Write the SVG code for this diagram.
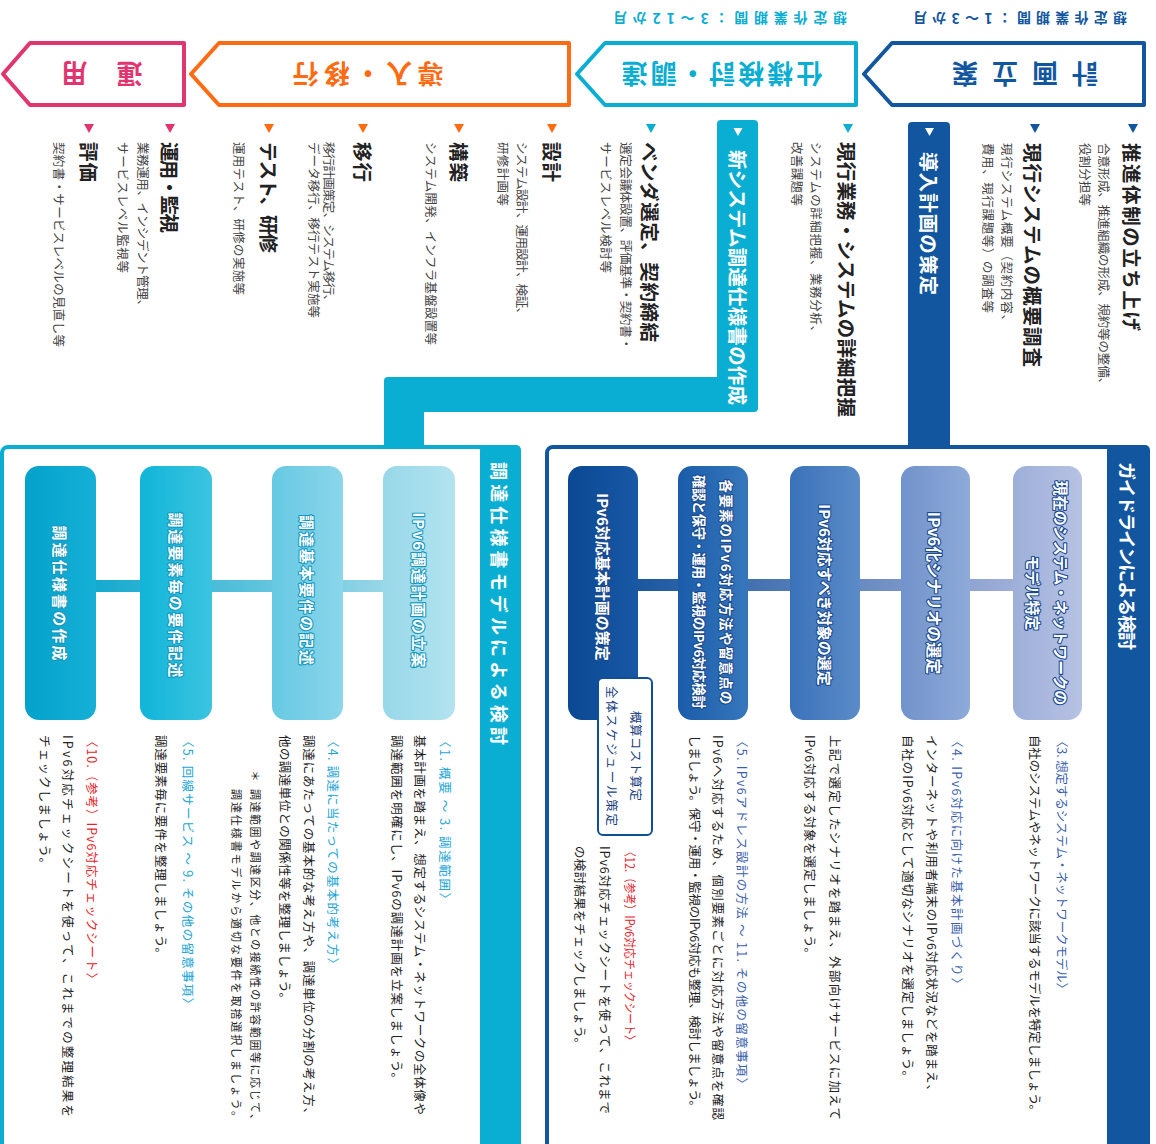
<svg xmlns="http://www.w3.org/2000/svg" width="1156" height="1144" viewBox="0 0 1156 1144">
<defs>
<style>
text{font-family:'Noto Sans CJK JP','Noto Sans',sans-serif;dominant-baseline:central}
.hd{font-size:26px;font-weight:700}
.per{font-size:14px;font-weight:700}
.ti{font-size:19.5px;font-weight:700;fill:#222}
.sb{font-size:12.5px;fill:#444}
.bar{font-size:19.5px;font-weight:700;fill:#fff}
.ds{font-size:12.5px;fill:#222}
.gh{font-size:12.5px;fill:#3a5fae}
.ph{font-size:12.5px;fill:#22a5d6}
.rd{font-size:12.5px;fill:#e8232b}
.gn{font-size:15px;font-weight:700;fill:#fff;stroke:#1b4a90;stroke-width:2.2px;paint-order:stroke;stroke-linejoin:round}
.pn{font-size:15px;font-weight:700;fill:#fff;stroke:#1598c0;stroke-width:2.2px;paint-order:stroke;stroke-linejoin:round}
.sbx{font-size:12.5px;fill:#1a3f80}
.bt{font-size:18px;font-weight:700;fill:#fff}
</style>
<linearGradient id="g1" x1="0" x2="1" y1="0" y2="0"><stop offset="0" stop-color="#9dafd9"/><stop offset="1" stop-color="#b7c2e3"/></linearGradient>
<linearGradient id="g2" x1="0" x2="1" y1="0" y2="0"><stop offset="0" stop-color="#7192cb"/><stop offset="1" stop-color="#8eaad8"/></linearGradient>
<linearGradient id="g3" x1="0" x2="1" y1="0" y2="0"><stop offset="0" stop-color="#3a72ba"/><stop offset="1" stop-color="#5b8bc8"/></linearGradient>
<linearGradient id="g4" x1="0" x2="1" y1="0" y2="0"><stop offset="0" stop-color="#1a5ca9"/><stop offset="1" stop-color="#3677bc"/></linearGradient>
<linearGradient id="g5" x1="0" x2="1" y1="0" y2="0"><stop offset="0" stop-color="#0a4893"/><stop offset="1" stop-color="#1858a4"/></linearGradient>
<linearGradient id="p1" x1="0" x2="1" y1="0" y2="0"><stop offset="0" stop-color="#98d8e9"/><stop offset="1" stop-color="#b3e3ef"/></linearGradient>
<linearGradient id="p2" x1="0" x2="1" y1="0" y2="0"><stop offset="0" stop-color="#66c9e2"/><stop offset="1" stop-color="#8bd6ea"/></linearGradient>
<linearGradient id="p3" x1="0" x2="1" y1="0" y2="0"><stop offset="0" stop-color="#10b5d8"/><stop offset="1" stop-color="#3cc4e0"/></linearGradient>
<linearGradient id="p4" x1="0" x2="1" y1="0" y2="0"><stop offset="0" stop-color="#03a2cb"/><stop offset="1" stop-color="#16b0d6"/></linearGradient>
<linearGradient id="gc" x1="0" x2="1" y1="0" y2="0"><stop offset="0" stop-color="#0f4f9a"/><stop offset="1" stop-color="#aab6dd"/></linearGradient>
<linearGradient id="pc" x1="0" x2="1" y1="0" y2="0"><stop offset="0" stop-color="#05a4cc"/><stop offset="1" stop-color="#a6dcea"/></linearGradient>
</defs>
<rect width="1156" height="1144" fill="#fff"/>

<!-- Phase header arrows -->
<g id="phase-plan">
<path d="M892 43 H1144 V105 H892 L864 74 Z" fill="#fff" stroke="#11569f" stroke-width="4" stroke-linejoin="round"/>
<text class="hd" fill="#11569f" text-anchor="middle" transform="translate(1025 75) rotate(180)" textLength="146" lengthAdjust="spacing">計画立案</text>
<text class="per" fill="#11569f" text-anchor="middle" transform="translate(1020 19) rotate(180)" textLength="214" lengthAdjust="spacing">想定作業期間：1～3か月</text>
</g>
<g id="phase-spec">
<path d="M605 43 H856 V105 H605 L577 74 Z" fill="#fff" stroke="#0aaed2" stroke-width="4" stroke-linejoin="round"/>
<text class="hd" fill="#0aaed2" text-anchor="middle" transform="translate(722 75) rotate(180)" textLength="201" lengthAdjust="spacing">仕様検討・調達</text>
<text class="per" fill="#0aaed2" text-anchor="middle" transform="translate(730 19) rotate(180)" textLength="234" lengthAdjust="spacing">想定作業期間：3～12か月</text>
</g>
<g id="phase-deploy">
<path d="M219 43 H569 V105 H219 L191 74 Z" fill="#fff" stroke="#ff6b12" stroke-width="4" stroke-linejoin="round"/>
<text class="hd" fill="#ff6b12" text-anchor="middle" transform="translate(368 75) rotate(180)" textLength="151" lengthAdjust="spacing">導入・移行</text>
</g>
<g id="phase-ops">
<path d="M30 43 H184 V105 H30 L3 74 Z" fill="#fff" stroke="#e0356f" stroke-width="4" stroke-linejoin="round"/>
<text class="hd" fill="#e0356f" text-anchor="middle" transform="translate(102 75) rotate(180)" textLength="81" lengthAdjust="spacing">運用</text>
</g>

<!-- Plan column items -->
<g id="plan-items">
<polygon points="1128,124 1138,124 1133,133" fill="#11569f"/>
<text class="ti" transform="translate(1132 143) rotate(90)" textLength="188" lengthAdjust="spacing">推進体制の立ち上げ</text>
<text class="sb" transform="translate(1104 143) rotate(90)" textLength="247" lengthAdjust="spacing">合意形成、推進組織の形成、規約等の整備、</text>
<text class="sb" transform="translate(1085 143) rotate(90)" textLength="63" lengthAdjust="spacing">役割分担等</text>
<polygon points="1030,124 1040,124 1035,133" fill="#11569f"/>
<text class="ti" transform="translate(1033 143) rotate(90)" textLength="224" lengthAdjust="spacing">現行システムの概要調査</text>
<text class="sb" transform="translate(1007 143) rotate(90)" textLength="184" lengthAdjust="spacing">現行システム概要（契約内容、</text>
<text class="sb" transform="translate(988 143) rotate(90)" textLength="170" lengthAdjust="spacing">費用、現行課題等）の調査等</text>
</g>
<g id="plan-bar">
<rect x="908" y="122" width="42" height="327" rx="4" fill="#11569f"/>
<polygon points="925,128 934,128 929.5,136" fill="#fff"/>
<text class="bar" transform="translate(929 152) rotate(90)" textLength="143" lengthAdjust="spacing">導入計画の策定</text>
</g>

<!-- Spec column items -->
<g id="spec-items">
<polygon points="843,124 853,124 848,133" fill="#0aaed2"/>
<text class="ti" transform="translate(847 142) rotate(90)" textLength="275" lengthAdjust="spacing">現行業務・システムの詳細把握</text>
<text class="sb" transform="translate(816 142) rotate(90)" textLength="196" lengthAdjust="spacing">システムの詳細把握、業務分析、</text>
<text class="sb" transform="translate(797 142) rotate(90)" textLength="64" lengthAdjust="spacing">改善課題等</text>
<polygon points="646,124 656,124 651,133" fill="#0aaed2"/>
<text class="ti" transform="translate(650 142) rotate(90)" textLength="200" lengthAdjust="spacing">ベンダ選定、契約締結</text>
<text class="sb" transform="translate(626 142) rotate(90)" textLength="208" lengthAdjust="spacing">選定会議体設置、評価基準・契約書・</text>
<text class="sb" transform="translate(606 142) rotate(90)" textLength="131" lengthAdjust="spacing">サービスレベル検討等</text>
</g>
<g id="spec-bar">
<path d="M721 120 H754 Q758 120 758 124 V408 Q758 412 754 412 H424 V449 H384 V381 Q384 377 388 377 H717 V124 Q717 120 721 120 Z" fill="#0aaed2"/>
<polygon points="733.5,128 742.5,128 738,136" fill="#fff"/>
<text class="bar" transform="translate(738 150) rotate(90)" textLength="255" lengthAdjust="spacing">新システム調達仕様書の作成</text>
</g>

<!-- Deploy / Ops column items -->
<g id="deploy-items">
<polygon points="547,124 557,124 552,133" fill="#ff6b12"/>
<text class="ti" transform="translate(552 142) rotate(90)" textLength="40" lengthAdjust="spacing">設計</text>
<text class="sb" transform="translate(522 142) rotate(90)" textLength="178" lengthAdjust="spacing">システム設計、運用設計、検証、</text>
<text class="sb" transform="translate(503 142) rotate(90)" textLength="64" lengthAdjust="spacing">研修計画等</text>
<polygon points="454,124 464,124 459,133" fill="#ff6b12"/>
<text class="ti" transform="translate(459 142) rotate(90)" textLength="40" lengthAdjust="spacing">構築</text>
<text class="sb" transform="translate(431 142) rotate(90)" textLength="203" lengthAdjust="spacing">システム開発、インフラ基盤設置等</text>
<polygon points="358,124 368,124 363,133" fill="#ff6b12"/>
<text class="ti" transform="translate(363 142) rotate(90)" textLength="40" lengthAdjust="spacing">移行</text>
<text class="sb" transform="translate(329 142) rotate(90)" textLength="165" lengthAdjust="spacing">移行計画策定、システム移行、</text>
<text class="sb" transform="translate(314 142) rotate(90)" textLength="176" lengthAdjust="spacing">データ移行、移行テスト実施等</text>
<polygon points="264,124 274,124 269,133" fill="#ff6b12"/>
<text class="ti" transform="translate(269 142) rotate(90)" textLength="111" lengthAdjust="spacing">テスト、研修</text>
<text class="sb" transform="translate(239 142) rotate(90)" textLength="153" lengthAdjust="spacing">運用テスト、研修の実施等</text>
</g>
<g id="ops-items">
<polygon points="165,124 175,124 170,133" fill="#e0356f"/>
<text class="ti" transform="translate(170 142) rotate(90)" textLength="91" lengthAdjust="spacing">運用・監視</text>
<text class="sb" transform="translate(143 142) rotate(90)" textLength="170" lengthAdjust="spacing">業務運用、インシデント管理、</text>
<text class="sb" transform="translate(123 142) rotate(90)" textLength="131" lengthAdjust="spacing">サービスレベル監視等</text>
<polygon points="84,124 94,124 89,133" fill="#e0356f"/>
<text class="ti" transform="translate(89 142) rotate(90)" textLength="40" lengthAdjust="spacing">評価</text>
<text class="sb" transform="translate(59 142) rotate(90)" textLength="205" lengthAdjust="spacing">契約書・サービスレベルの見直し等</text>
</g>

<!-- Guideline box -->
<g id="guideline-box">
<rect x="547" y="447" width="601" height="720" rx="6" fill="#fff" stroke="#11569f" stroke-width="4"/>
<rect x="1107" y="445" width="43" height="710" rx="5" fill="#11569f"/>
<text class="bt" transform="translate(1128 462) rotate(90)" textLength="188" lengthAdjust="spacing">ガイドラインによる検討</text>
</g>

<!-- Procurement box -->
<g id="procurement-box">
<rect x="2" y="447" width="517" height="720" rx="6" fill="#fff" stroke="#0aaed2" stroke-width="4"/>
<rect x="480" y="445" width="41" height="710" rx="5" fill="#0aaed2"/>
<text class="bt" transform="translate(500 462) rotate(90)" textLength="283" lengthAdjust="spacing">調達仕様書モデルによる検討</text>
</g>

<!-- Connectors -->
<g id="connectors">
<rect x="603" y="579" width="444" height="12" fill="url(#gc)"/>
<rect x="60" y="580" width="359" height="12" fill="url(#pc)"/>
</g>

<!-- Guideline nodes -->
<g id="g-node1">
<rect x="1013" y="466" width="69" height="254" rx="14" fill="url(#g1)"/>
<text class="gn" text-anchor="middle" transform="translate(1061 593) rotate(90)">現在のシステム・ネットワークの</text>
<text class="gn" text-anchor="middle" transform="translate(1033 593) rotate(90)">モデル特定</text>
<text class="gh" transform="translate(1062 735) rotate(90)" textLength="260" lengthAdjust="spacing">〈3. 想定するシステム・ネットワークモデル〉</text>
<text class="ds" transform="translate(1035 735) rotate(90)" textLength="382" lengthAdjust="spacing">自社のシステムやネットワークに該当するモデルを特定しましょう。</text>
</g>
<g id="g-node2">
<rect x="901" y="466" width="69" height="254" rx="14" fill="url(#g2)"/>
<text class="gn" style="font-size:16px" text-anchor="middle" transform="translate(935 593) rotate(90)">IPv6化シナリオの選定</text>
<text class="gh" transform="translate(957 735) rotate(90)" textLength="255" lengthAdjust="spacing">〈4. IPv6対応に向けた基本計画づくり〉</text>
<text class="ds" transform="translate(932 735) rotate(90)" textLength="362" lengthAdjust="spacing">インターネットや利用者端末のIPv6対応状況などを踏まえ、</text>
<text class="ds" transform="translate(908 735) rotate(90)" textLength="348" lengthAdjust="spacing">自社のIPv6対応として適切なシナリオを選定しましょう。</text>
</g>
<g id="g-node3">
<rect x="790" y="466" width="70" height="254" rx="14" fill="url(#g3)"/>
<text class="gn" text-anchor="middle" transform="translate(825 595) rotate(90)">IPv6対応すべき対象の選定</text>
<text class="ds" transform="translate(835 735) rotate(90)" textLength="385" lengthAdjust="spacing">上記で選定したシナリオを踏まえ、外部向けサービスに加えて</text>
<text class="ds" transform="translate(810 735) rotate(90)" textLength="225" lengthAdjust="spacing">IPv6対応する対象を選定しましょう。</text>
</g>
<g id="g-node4">
<rect x="678" y="466" width="70" height="254" rx="14" fill="url(#g4)"/>
<text class="gn" text-anchor="middle" style="font-size:13.5px" transform="translate(727 592) rotate(90)" textLength="225" lengthAdjust="spacing">各要素のIPv6対応方法や留意点の</text>
<text class="gn" text-anchor="middle" style="font-size:13.5px" transform="translate(700 592) rotate(90)" textLength="234" lengthAdjust="spacing">確認と保守・運用・監視のIPv6対応検討</text>
<text class="gh" transform="translate(742 735) rotate(90)" textLength="355" lengthAdjust="spacing">〈5. IPv6アドレス設計の方法 ～ 11. その他の留意事項〉</text>
<text class="ds" transform="translate(718 735) rotate(90)" textLength="385" lengthAdjust="spacing">IPv6へ対応するため、個別要素ごとに対応方法や留意点を確認</text>
<text class="ds" transform="translate(695 735) rotate(90)" textLength="378" lengthAdjust="spacing">しましょう。保守・運用・監視のIPv6対応も整理、検討しましょう。</text>
</g>
<g id="g-node5">
<rect x="568" y="466" width="70" height="254" rx="14" fill="url(#g5)"/>
<text class="gn" text-anchor="middle" transform="translate(603 577) rotate(90)">IPv6対応基本計画の策定</text>
<rect x="598" y="678" width="54" height="157" rx="5" fill="#fff" stroke="#0e4f98" stroke-width="2"/>
<text class="sbx" text-anchor="middle" transform="translate(636 756) rotate(90)" textLength="90" lengthAdjust="spacing">概算コスト算定</text>
<text class="sbx" text-anchor="middle" transform="translate(612 756) rotate(90)" textLength="140" lengthAdjust="spacing">全体スケジュール策定</text>
<text class="rd" transform="translate(630 846) rotate(90)" textLength="200" lengthAdjust="spacingAndGlyphs">〈12.（参考）IPv6対応チェックシート〉</text>
<text class="ds" transform="translate(605 846) rotate(90)" textLength="268" lengthAdjust="spacing">IPv6対応チェックシートを使って、これまで</text>
<text class="ds" transform="translate(580 846) rotate(90)" textLength="204" lengthAdjust="spacing">の検討結果をチェックしましょう。</text>
</g>

<!-- Procurement nodes -->
<g id="p-node1">
<rect x="383" y="466" width="72" height="254" rx="14" fill="url(#p1)"/>
<text class="pn" text-anchor="middle" transform="translate(419 590) rotate(90)" textLength="155" lengthAdjust="spacing">IPv6調達計画の立案</text>
<text class="ph" transform="translate(445 735) rotate(90)" textLength="170" lengthAdjust="spacing">〈1. 概要 ～ 3. 調達範囲〉</text>
<text class="ds" transform="translate(420 735) rotate(90)" textLength="380" lengthAdjust="spacing">基本計画を踏まえ、想定するシステム・ネットワークの全体像や</text>
<text class="ds" transform="translate(397 735) rotate(90)" textLength="350" lengthAdjust="spacing">調達範囲を明確にし、IPv6の調達計画を立案しましょう。</text>
</g>
<g id="p-node2">
<rect x="272" y="466" width="71" height="254" rx="14" fill="url(#p2)"/>
<text class="pn" text-anchor="middle" transform="translate(307 590) rotate(90)" textLength="150" lengthAdjust="spacing">調達基本要件の記述</text>
<text class="ph" transform="translate(333 735) rotate(90)" textLength="235" lengthAdjust="spacing">〈4. 調達に当たっての基本的考え方〉</text>
<text class="ds" transform="translate(309 735) rotate(90)" textLength="385" lengthAdjust="spacing">調達にあたっての基本的な考え方や、調達単位の分割の考え方、</text>
<text class="ds" transform="translate(285 735) rotate(90)" textLength="270" lengthAdjust="spacing">他の調達単位との関係性等を整理しましょう。</text>
<text class="ds" style="font-size:11px" text-anchor="middle" transform="translate(256 776) rotate(90)">＊</text>
<text class="ds" style="font-size:11px" transform="translate(256 789) rotate(90)" textLength="336" lengthAdjust="spacing">調達範囲や調達区分、他との接続性の許容範囲等に応じて、</text>
<text class="ds" style="font-size:11px" transform="translate(237 789) rotate(90)" textLength="333" lengthAdjust="spacing">調達仕様書モデルから適切な要件を取捨選択しましょう。</text>
</g>
<g id="p-node3">
<rect x="140" y="466" width="72" height="254" rx="14" fill="url(#p3)"/>
<text class="pn" text-anchor="middle" transform="translate(176 595) rotate(90)" textLength="165" lengthAdjust="spacing">調達要素毎の要件記述</text>
<text class="ph" transform="translate(188 735) rotate(90)" textLength="275" lengthAdjust="spacing">〈5. 回線サービス ～ 9. その他の留意事項〉</text>
<text class="ds" transform="translate(161 735) rotate(90)" textLength="225" lengthAdjust="spacing">調達要素毎に要件を整理しましょう。</text>
</g>
<g id="p-node4">
<rect x="25" y="466" width="71" height="254" rx="14" fill="url(#p4)"/>
<text class="pn" text-anchor="middle" transform="translate(60 593) rotate(90)" textLength="135" lengthAdjust="spacing">調達仕様書の作成</text>
<text class="rd" transform="translate(92 735) rotate(90)" textLength="250" lengthAdjust="spacing">〈10.（参考）IPv6対応チェックシート〉</text>
<text class="ds" transform="translate(68 735) rotate(90)" textLength="382" lengthAdjust="spacing">IPv6対応チェックシートを使って、これまでの整理結果を</text>
<text class="ds" transform="translate(45 735) rotate(90)" textLength="135" lengthAdjust="spacing">チェックしましょう。</text>
</g>
</svg>
